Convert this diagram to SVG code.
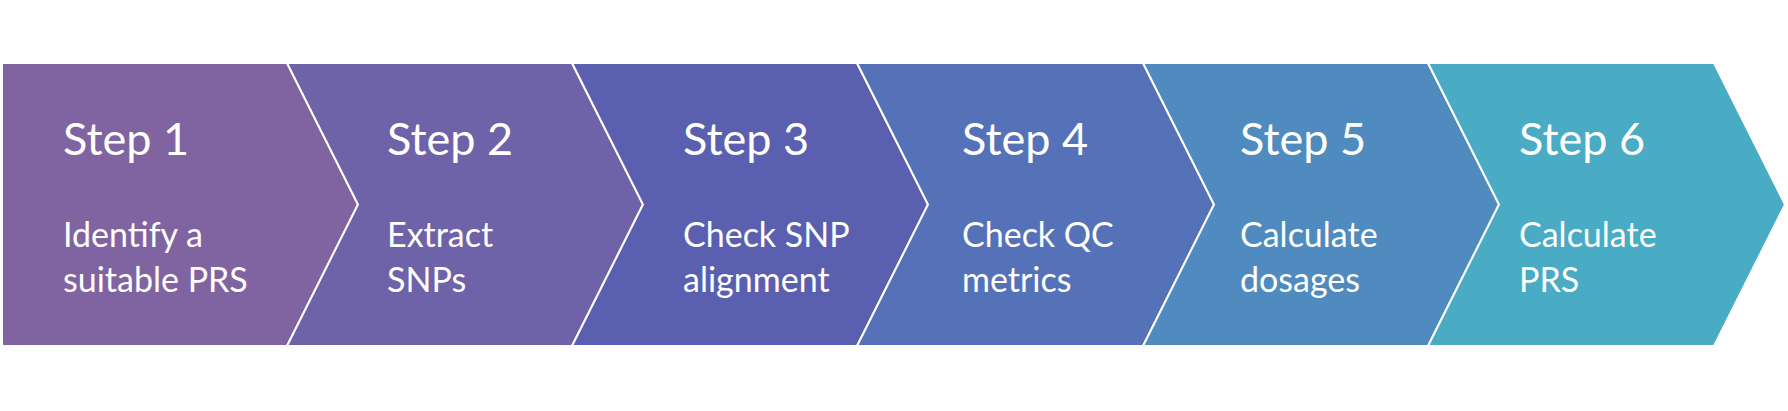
<svg xmlns="http://www.w3.org/2000/svg" width="1788" height="411" viewBox="0 0 1788 411">
<style>
.chev{stroke:#ffffff;stroke-width:2;stroke-linejoin:miter}
.h{font-family:Lato,"Open Sans",sans-serif;font-size:45px;fill:#ffffff}
.b{font-family:Lato,"Open Sans",sans-serif;font-size:34px;fill:#ffffff}
</style>
<rect width="1788" height="411" fill="#ffffff"/>
<g id="step1">
<polygon class="chev" fill="#7F64A1" points="2,63 287,63 358,204.5 287,346 2,346"/>
<text class="h" x="63" y="155">Step 1</text>
<text class="b" x="63" y="247">Identify a</text>
<text class="b" x="63" y="291.5">suitable PRS</text>
</g>
<g id="step2">
<polygon class="chev" fill="#6E62A8" points="287,63 572,63 643,204.5 572,346 287,346 358,204.5"/>
<text class="h" x="387" y="155">Step 2</text>
<text class="b" x="387" y="247">Extract</text>
<text class="b" x="387" y="291.5">SNPs</text>
</g>
<g id="step3">
<polygon class="chev" fill="#5A5FAF" points="572,63 857,63 928,204.5 857,346 572,346 643,204.5"/>
<text class="h" x="683" y="155">Step 3</text>
<text class="b" x="683" y="247">Check SNP</text>
<text class="b" x="683" y="291.5">alignment</text>
</g>
<g id="step4">
<polygon class="chev" fill="#5572B8" points="857,63 1143,63 1214,204.5 1143,346 857,346 928,204.5"/>
<text class="h" x="962" y="155">Step 4</text>
<text class="b" x="962" y="247">Check QC</text>
<text class="b" x="962" y="291.5">metrics</text>
</g>
<g id="step5">
<polygon class="chev" fill="#508BC0" points="1143,63 1428,63 1499,204.5 1428,346 1143,346 1214,204.5"/>
<text class="h" x="1240" y="155">Step 5</text>
<text class="b" x="1240" y="247">Calculate</text>
<text class="b" x="1240" y="291.5">dosages</text>
</g>
<g id="step6">
<polygon class="chev" fill="#4AABC5" points="1428,63 1714,63 1785,204.5 1714,346 1428,346 1499,204.5"/>
<text class="h" x="1519" y="155">Step 6</text>
<text class="b" x="1519" y="247">Calculate</text>
<text class="b" x="1519" y="291.5">PRS</text>
</g>
<g id="connectors"></g>
</svg>
